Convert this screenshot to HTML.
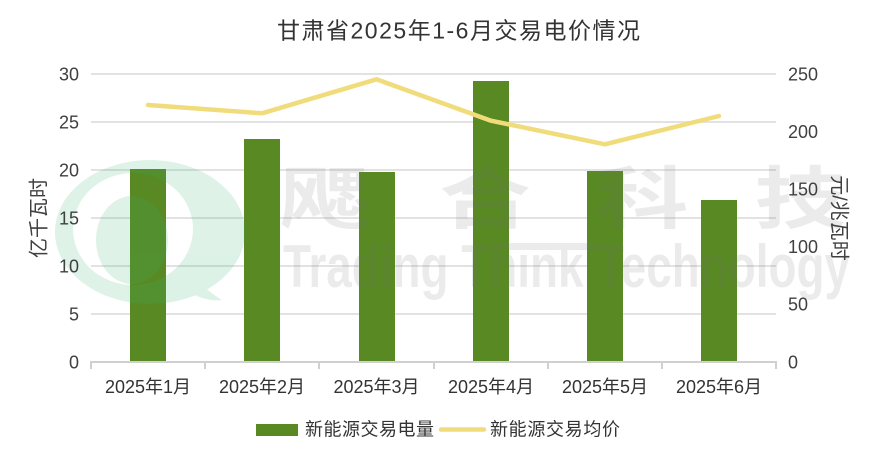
<!DOCTYPE html>
<html><head><meta charset="utf-8"><style>
html,body{margin:0;padding:0;background:#fff;}
svg{display:block;}
text{font-family:"Liberation Sans","Noto Sans CJK SC",sans-serif;}
</style></head><body>
<svg width="878" height="460" viewBox="0 0 878 460" xmlns="http://www.w3.org/2000/svg">
<rect width="878" height="460" fill="#fff"/>
<!-- title -->
<text x="277" y="38.5" font-size="23" fill="#333" textLength="363" lengthAdjust="spacing">甘肃省2025年1-6月交易电价情况</text>
<!-- gridlines -->
<g stroke="#e2e2e2" stroke-width="2">
<line x1="91" y1="74" x2="776" y2="74"/>
<line x1="91" y1="122" x2="776" y2="122"/>
<line x1="91" y1="170" x2="776" y2="170"/>
<line x1="91" y1="218" x2="776" y2="218"/>
<line x1="91" y1="266" x2="776" y2="266"/>
<line x1="91" y1="314" x2="776" y2="314"/>
</g>
<!-- bars -->
<g fill="#588922">
<rect x="130" y="169" width="36" height="192"/>
<rect x="244" y="139" width="36" height="222"/>
<rect x="359" y="172" width="36" height="189"/>
<rect x="473" y="81" width="36" height="280"/>
<rect x="587" y="171" width="36" height="190"/>
<rect x="701" y="200" width="36" height="161"/>
</g>
<!-- axis -->
<g stroke="#d0d0d0" stroke-width="2">
<line x1="90" y1="362" x2="777" y2="362"/>
<line x1="91" y1="362" x2="91" y2="369"/>
<line x1="205" y1="362" x2="205" y2="369"/>
<line x1="319" y1="362" x2="319" y2="369"/>
<line x1="434" y1="362" x2="434" y2="369"/>
<line x1="548" y1="362" x2="548" y2="369"/>
<line x1="662" y1="362" x2="662" y2="369"/>
<line x1="776" y1="362" x2="776" y2="369"/>
</g>
<!-- watermark logo -->
<g opacity="0.17" fill="rgb(60,180,110)">
<path fill-rule="evenodd" d="M55,232 a95,72 0 1,0 190,0 a95,72 0 1,0 -190,0 Z M73,229 a60,56 0 1,0 120,0 a60,56 0 1,0 -120,0 Z M96,240 a36,44 0 1,0 72,0 a36,44 0 1,0 -72,0 Z"/>
<path d="M185,268 Q205,290 222,300 Q205,302 190,292 Q180,282 185,268 Z"/>
</g>
<!-- watermark text -->
<g opacity="0.14" fill="#787878">
<text transform="translate(325.5,223) scale(1.35,1)" font-size="68" font-weight="bold" text-anchor="middle">飔</text>
<text transform="translate(485,223) scale(1.35,1)" font-size="68" font-weight="bold" text-anchor="middle">合</text>
<text transform="translate(642.5,223) scale(1.35,1)" font-size="68" font-weight="bold" text-anchor="middle">科</text>
<text transform="translate(800.5,223) scale(1.35,1)" font-size="68" font-weight="bold" text-anchor="middle">技</text>
<text x="283" y="287" font-size="60" font-weight="bold" textLength="567" lengthAdjust="spacingAndGlyphs">Trading Think Technology</text>
<rect x="498" y="243" width="108" height="7"/>
</g>
<!-- line -->
<polyline points="148,105 262,113.3 376.5,79.3 491,120.7 605,144.3 719,116" fill="none" stroke="#f1dc7b" stroke-width="4.5" stroke-linejoin="round" stroke-linecap="round"/>
<!-- left y labels -->
<g font-size="18" fill="#404040" text-anchor="end">
<text x="79" y="80.5">30</text>
<text x="79" y="128.5">25</text>
<text x="79" y="176.5">20</text>
<text x="79" y="224.5">15</text>
<text x="79" y="272.5">10</text>
<text x="79" y="320.5">5</text>
<text x="79" y="368.5">0</text>
</g>
<!-- right y labels -->
<g font-size="18" fill="#404040">
<text x="788" y="80.5">250</text>
<text x="788" y="138">200</text>
<text x="788" y="195.5">150</text>
<text x="788" y="253">100</text>
<text x="788" y="310.5">50</text>
<text x="788" y="368.5">0</text>
</g>
<!-- x labels -->
<g font-size="18" fill="#333" text-anchor="middle">
<text x="148" y="393">2025年1月</text>
<text x="262" y="393">2025年2月</text>
<text x="376.5" y="393">2025年3月</text>
<text x="491" y="393">2025年4月</text>
<text x="605" y="393">2025年5月</text>
<text x="719" y="393">2025年6月</text>
</g>
<!-- axis titles -->
<text transform="translate(45.5,218) rotate(-90)" font-size="20" fill="#404040" text-anchor="middle">亿千瓦时</text>
<text transform="translate(832.5,218) rotate(90)" font-size="20" fill="#404040" text-anchor="middle">元/兆瓦时</text>
<!-- legend -->
<rect x="256" y="424" width="42" height="12" fill="#588922"/>
<text x="305" y="435.5" font-size="18" fill="#333" textLength="129" lengthAdjust="spacing">新能源交易电量</text>
<line x1="441" y1="429.5" x2="484" y2="429.5" stroke="#f1dc7b" stroke-width="4.5" stroke-linecap="round"/>
<text x="490" y="435.5" font-size="18" fill="#333" textLength="130" lengthAdjust="spacing">新能源交易均价</text>
</svg>
</body></html>
